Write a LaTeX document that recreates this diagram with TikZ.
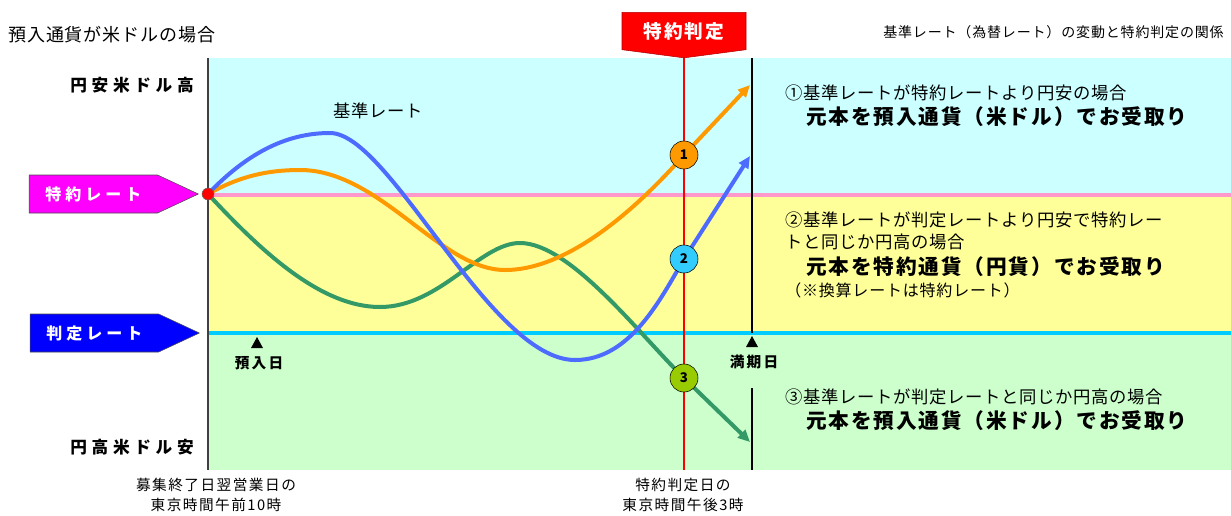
\documentclass[tikz,border=0pt]{standalone}
\usepackage{fontspec}
\newfontfamily\jp{Noto Sans CJK JP}
\newcommand{\jpf}[2]{\jp\fontsize{#1}{#1}\selectfont\addfontfeature{LetterSpace=#2}}
\usetikzlibrary{arrows.meta, shapes.symbols}

\definecolor{skybg}{HTML}{CCFFFF}
\definecolor{lemonbg}{HTML}{FFFF99}
\definecolor{mintbg}{HTML}{CCFFCC}
\definecolor{pinkline}{HTML}{FF99CC}
\definecolor{aqualine}{HTML}{00CCFF}
\definecolor{ratebl}{HTML}{4D6BFF}
\definecolor{rateor}{HTML}{FF9900}
\definecolor{rategr}{HTML}{339966}
\definecolor{limec}{HTML}{99CC00}
\definecolor{circbl}{HTML}{33CCFF}
\definecolor{tagmag}{HTML}{FF00FF}
\definecolor{tagblue}{HTML}{0000FF}

\tikzset{
  every node/.style={inner sep=0pt},
  curve/.style={line width=3pt, line cap=round},
  tip/.style={-{Triangle[length=9pt,width=8pt]}},
  ratetag/.style={signal, signal to=east, signal pointer angle=50, draw=black!70,
    minimum height=28.5pt, minimum width=127pt, text=white, font=\bfseries\jpf{12}{25}},
  judge/.style={circle, draw=black, minimum size=21pt, font=\bfseries\jpf{10}{0}},
  case/.style={anchor=west, font=\jpf{13}{4}},
  getback/.style={anchor=west, font=\bfseries\jpf{15.5}{9}},
  note/.style={font=\jpf{11}{10}},
}

\begin{document}
\begin{tikzpicture}[x=0.75pt, y=-0.75pt]
  \useasboundingbox (0,0) rectangle (1231,515);

  % bands
  \fill[skybg] (208,58) rectangle (1231,195);
  \fill[lemonbg] (208,195) rectangle (1231,333);
  \fill[mintbg] (208,333) rectangle (1231,470);
  \coordinate (pinkL) at (208,195);
  \coordinate (pinkR) at (1231,195);
  \coordinate (aquaL) at (208,333);
  \coordinate (aquaR) at (1231,333);
  \draw[pinkline, line width=3pt] (pinkL) -- (pinkR);
  \draw[aqualine, line width=3pt] (aquaL) -- (aquaR);

  % axis and maturity line
  \coordinate (axtop) at (208,58);
  \coordinate (axbot) at (208,470);
  \draw[black!75, line width=1pt] (axtop) -- (axbot);
  \coordinate (mtop) at (752,58);
  \coordinate (mmid) at (752,333);
  \coordinate (mlow) at (752,388);
  \coordinate (mbot) at (752,470);
  \draw[black, line width=0.8pt] (mtop) -- (mmid);
  \draw[black, line width=0.8pt] (mlow) -- (mbot);

  % decision day
  \node[signal, signal to=south, signal pointer angle=165, fill=red, draw=red!70!black,
    minimum width=93pt, minimum height=32pt, text=white, font=\bfseries\jpf{14}{10}]
    (decide) at (684,31) {特約判定};
  \coordinate (redbot) at (684,470);
  \draw[red, line width=1.2pt] (decide.south) -- (redbot);

  % rate curves
  \coordinate (orig) at (208,194);
  \coordinate (p1) at (684,155);
  \coordinate (p2) at (684,259);
  \coordinate (p3) at (684,378);
  \coordinate (e1) at (750,85);
  \coordinate (e2) at (750,156);
  \coordinate (e3) at (750,442);
  \draw[curve, rategr] (orig) .. controls (260,250) and (320,307) .. (380,307)
    .. controls (440,307) and (480,243) .. (520,243)
    .. controls (570,243) and (640,335) .. (p3);
  \draw[curve, rategr, tip] (p3) -- (e3);
  \draw[curve, rateor] (orig) .. controls (240,176) and (268,170) .. (300,170)
    .. controls (380,170) and (440,270) .. (505,270)
    .. controls (570,270) and (640,205) .. (p1);
  \draw[curve, rateor, tip] (p1) -- (e1);
  \draw[curve, ratebl] (orig) .. controls (250,150) and (290,133) .. (330,133)
    .. controls (390,133) and (490,360) .. (575,360)
    .. controls (630,360) and (660,300) .. (p2);
  \draw[curve, ratebl, tip] (p2) -- (e2);

  \node[judge, fill=rateor] (c1) at (p1) {1};
  \node[judge, fill=circbl] (c2) at (p2) {2};
  \node[judge, fill=limec] (c3) at (p3) {3};
  \node[circle, fill=red, draw=black!60, minimum size=9pt] (dot) at (orig) {};

  % rate tags
  \node[ratetag, fill=tagmag, anchor=east] (special) at (199,194) {特約レート};
  \node[ratetag, fill=tagblue, anchor=east] (judgerate) at (200,333) {判定レート};

  % day marks
  \fill (257,337) -- (263,348) -- (251,348) -- cycle;
  \fill (752,336) -- (758,347) -- (746,347) -- cycle;
  \node[font=\bfseries\jpf{11}{15}] (depo) at (259,363) {預入日};
  \node[font=\bfseries\jpf{11}{15}] (matu) at (754,362) {満期日};

  % titles and labels
  \node[anchor=west, font=\jpf{13.5}{5}] (title) at (8,35) {預入通貨が米ドルの場合};
  \node[anchor=east, font=\jpf{10.5}{6}] (head) at (1224,32) {基準レート（為替レート）の変動と特約判定の関係};
  \node[anchor=east, font=\bfseries\jpf{12.5}{28}] (yenlow) at (194,85) {円安米ドル高};
  \node[anchor=east, font=\bfseries\jpf{12.5}{28}] (yenhigh) at (194,447) {円高米ドル安};
  \node[anchor=west, font=\jpf{13}{4}] (base) at (333,111) {基準レート};

  % cases
  \node[case] (case1) at (785,93) {①基準レートが特約レートより円安の場合};
  \node[getback] (get1) at (806,117) {元本を預入通貨（米ドル）でお受取り};
  \node[case] (case2) at (785,220) {②基準レートが判定レートより円安で特約レー};
  \node[case] (case2b) at (785,242) {トと同じか円高の場合};
  \node[getback] (get2) at (806,267) {元本を特約通貨（円貨）でお受取り};
  \node[anchor=west, font=\jpf{12}{5}] (conv) at (785,290) {（※換算レートは特約レート）};
  \node[case] (case3) at (785,397) {③基準レートが判定レートと同じか円高の場合};
  \node[getback] (get3) at (806,421) {元本を預入通貨（米ドル）でお受取り};

  % times
  \node[note] (t1a) at (216,485) {募集終了日翌営業日の};
  \node[note] (t1b) at (216,505) {東京時間午前10時};
  \node[note] (t2a) at (683,485) {特約判定日の};
  \node[note] (t2b) at (683,505) {東京時間午後3時};
\end{tikzpicture}
\end{document}
